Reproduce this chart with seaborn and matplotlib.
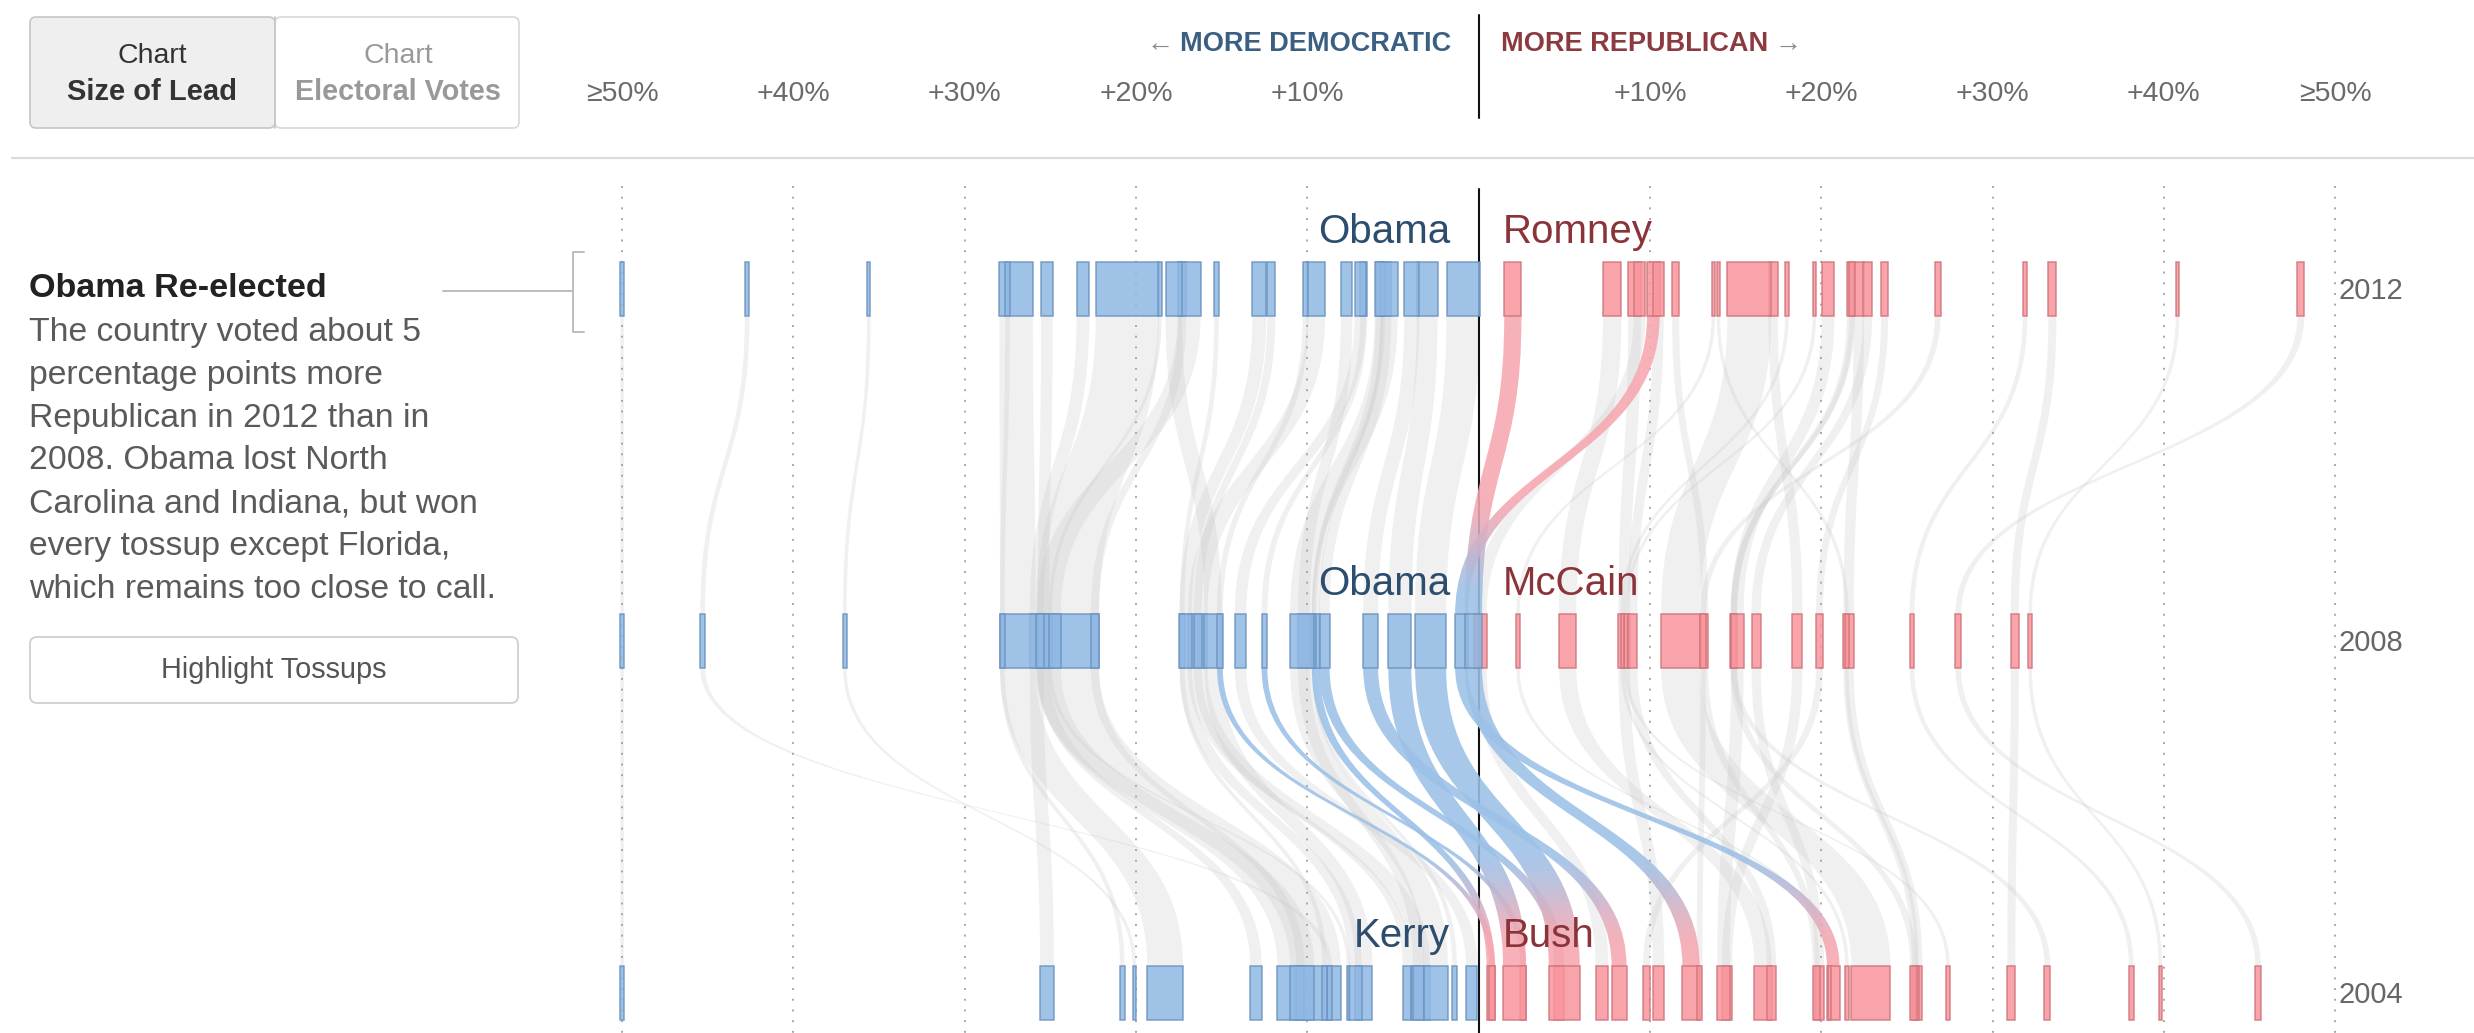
import numpy as np
import matplotlib
matplotlib.use("Agg")
import matplotlib.pyplot as plt
import seaborn as sns
from matplotlib.path import Path
from matplotlib.patches import PathPatch, FancyBboxPatch
from matplotlib.colors import to_rgb

# ---------------- data ----------------
states = ['Alabama', 'Alaska', 'Arizona', 'Arkansas', 'California', 'Colorado', 'Connecticut',
          'Delaware', 'District of Columbia', 'Florida', 'Georgia', 'Hawaii', 'Idaho', 'Illinois',
          'Indiana', 'Iowa', 'Kansas', 'Kentucky', 'Louisiana', 'Maine', 'Maryland', 'Massachusetts',
          'Michigan', 'Minnesota', 'Mississippi', 'Missouri', 'Montana', 'Nebraska', 'Nevada',
          'New Hampshire', 'New Jersey', 'New Mexico', 'New York', 'North Carolina', 'North Dakota',
          'Ohio', 'Oklahoma', 'Oregon', 'Pennsylvania', 'Rhode Island', 'South Carolina',
          'South Dakota', 'Tennessee', 'Texas', 'Utah', 'Vermont', 'Virginia', 'Washington',
          'West Virginia', 'Wisconsin', 'Wyoming']

ev_2012 = [9, 3, 11, 6, 55, 9, 7, 3, 3, 29, 16, 4, 4, 20, 11, 6, 6, 8, 8, 4, 10, 11, 16, 10, 6, 10,
           3, 5, 6, 4, 14, 5, 29, 15, 3, 18, 7, 7, 20, 4, 9, 3, 11, 38, 6, 3, 13, 12, 5, 10, 3]
ev_2008 = [9, 3, 10, 6, 55, 9, 7, 3, 3, 27, 15, 4, 4, 21, 11, 7, 6, 8, 9, 4, 10, 12, 17, 10, 6, 11,
           3, 5, 5, 4, 15, 5, 31, 15, 3, 20, 7, 7, 21, 4, 8, 3, 11, 34, 5, 3, 13, 11, 5, 10, 3]
ev_2004 = ev_2008

# lead in percentage points: positive = Republican, negative = Democratic
margin_2012 = [22.2, 14.0, 9.1, 23.7, -20.5, -5.4, -17.3, -18.6, -83.6, -0.9, 7.8, -42.7, 31.9, -16.9,
               10.2, -5.8, 21.7, 22.7, 17.2, -15.3, -25.2, -23.1, -9.5, -7.7, 11.5, 9.4, 13.7, 21.8,
               -6.7, -5.6, -17.8, -10.1, -27.0, 2.0, 19.6, -3.0, 33.5, -12.1, -5.4, -27.5, 10.5,
               18.0, 20.4, 15.8, 48.0, -35.6, -3.9, -12.8, 26.8, -6.9, 40.8]
margin_2008 = [21.6, 21.5, 8.5, 19.9, -24.0, -9.0, -22.4, -25.0, -85.9, -2.8, 5.2, -45.3, 25.3, -25.1,
               -1.0, -9.5, 14.9, 16.2, 18.6, -17.3, -25.4, -25.8, -16.4, -10.2, 13.2, 0.1, 2.3, 14.9,
               -12.5, -9.6, -15.5, -15.1, -26.9, -0.3, 8.6, -4.6, 31.3, -16.4, -10.3, -27.8, 9.0,
               8.4, 15.1, 11.8, 28.0, -37.0, -6.3, -17.1, 13.1, -13.9, 32.2]
margin_2004 = [25.6, 25.6, 10.5, 9.8, -9.9, 4.7, -10.4, -7.6, -79.8, 5.0, 16.6, -8.7, 38.1, -10.3,
               20.7, 0.7, 25.4, 19.9, 14.5, -9.0, -13.0, -25.2, -3.4, -3.5, 19.7, 7.2, 20.5, 33.2,
               2.6, -1.4, -6.7, 0.8, -18.3, 12.4, 27.4, 2.1, 31.1, -4.2, -2.5, -20.8, 17.1,
               21.5, 14.3, 22.9, 45.5, -20.1, 8.2, -7.2, 12.9, -0.4, 39.8]

years = [2012, 2008, 2004]
dem_names = ['Obama', 'Obama', 'Kerry']
rep_names = ['Romney', 'McCain', 'Bush']
tick_values = [-50, -40, -30, -20, -10, 10, 20, 30, 40, 50]
tick_labels = ['≥50%', '+40%', '+30%', '+20%', '+10%', '+10%', '+20%', '+30%', '+40%', '≥50%']
highlight_2012_2008 = ['North Carolina', 'Indiana']
highlight_2008_2004 = ['Colorado', 'Florida', 'Indiana', 'Iowa', 'Nevada', 'New Mexico',
                       'North Carolina', 'Ohio', 'Virginia']

note_title = 'Obama Re-elected'
note_lines = ['The country voted about 5', 'percentage points more', 'Republican in 2012 than in',
              '2008. Obama lost North', 'Carolina and Indiana, but won',
              'every tossup except Florida,', 'which remains too close to call.']

# ---------------- style ----------------
sns.set_theme(style="white")
plt.rcParams['font.family'] = ['Liberation Sans', 'DejaVu Sans']

W, H, DPI = 2474, 1033, 100
CENTER_PX = 1478.6
PX_PER_PCT = 17.13
PCT_PER_EV = 1.15 / PX_PER_PCT
ROW_TOPS = [262, 614, 966]
BAR_H = 54

BLUE_FILL, BLUE_EDGE = '#8fb8e3', '#6a92bf'
RED_FILL, RED_EDGE = '#f8959c', '#cf747c'
BLUE_FLOW, RED_FLOW = to_rgb('#9cc1e7'), to_rgb('#f6a7b0')

fig = plt.figure(figsize=(W / DPI, H / DPI), dpi=DPI)
fig.patch.set_facecolor('white')
ax = fig.add_axes([0, 0, 1, 1])
ax.set_xlim(-CENTER_PX / PX_PER_PCT, (W - CENTER_PX) / PX_PER_PCT)
ax.set_ylim(H, 0)
ax.axis('off')
sns.despine(ax=ax, left=True, bottom=True)

margins = [np.clip(margin_2012, -50, 50), np.clip(margin_2008, -50, 50), np.clip(margin_2004, -50, 50)]
evs = [np.array(ev_2012), np.array(ev_2008), np.array(ev_2004)]
widths = [e * PCT_PER_EV for e in evs]


def band_path(x0, w0, y0, x1, w1, y1):
    ym = (y0 + y1) / 2
    verts = [(x0 - w0 / 2, y0), (x0 - w0 / 2, ym), (x1 - w1 / 2, ym), (x1 - w1 / 2, y1),
             (x1 + w1 / 2, y1), (x1 + w1 / 2, ym), (x0 + w0 / 2, ym), (x0 + w0 / 2, y0),
             (x0 - w0 / 2, y0)]
    codes = [Path.MOVETO, Path.CURVE4, Path.CURVE4, Path.CURVE4, Path.LINETO,
             Path.CURVE4, Path.CURVE4, Path.CURVE4, Path.CLOSEPOLY]
    return Path(verts, codes)


# grid lines
ax.vlines(tick_values, 186, H, colors='#a8a8a8', linestyles=(0, (1, 4.5)), lw=1.4, zorder=2)

# flows
highlights = [highlight_2012_2008, highlight_2008_2004]
for r in range(2):
    y0 = ROW_TOPS[r] + BAR_H
    y1 = ROW_TOPS[r + 1]
    for i, st in enumerate(states):
        x0, w0 = margins[r][i], widths[r][i]
        x1, w1 = margins[r + 1][i], widths[r + 1][i]
        path = band_path(x0, w0, y0, x1, w1, y1)
        if st in highlights[r]:
            top = RED_FLOW if x0 > 0 else BLUE_FLOW
            bot = RED_FLOW if x1 > 0 else BLUE_FLOW
            n = 200
            t = np.linspace(0, 1, n)
            s = np.clip((t - 0.6) / 0.36, 0, 1)
            s = s * s * (3 - 2 * s)
            img = np.zeros((n, 1, 4))
            img[:, 0, :3] = np.outer(1 - s, top) + np.outer(s, bot)
            img[:, 0, 3] = 0.88
            patch = PathPatch(path, facecolor='none', edgecolor='none')
            ax.add_patch(patch)
            xmin = min(x0 - w0 / 2, x1 - w1 / 2) - 0.2
            xmax = max(x0 + w0 / 2, x1 + w1 / 2) + 0.2
            im = ax.imshow(img, extent=[xmin, xmax, y1, y0], aspect='auto', origin='upper',
                           interpolation='bilinear', zorder=4)
            im.set_clip_path(patch)
        else:
            ax.add_patch(PathPatch(path, facecolor='#c8c8c8', alpha=0.27, edgecolor='none', zorder=1))

# center line
ax.plot([0, 0], [189, H], color='#111111', lw=1.5, zorder=3)

# bars
for r in range(3):
    m = margins[r]
    cols = [RED_FILL if v > 0 else BLUE_FILL for v in m]
    eds = [RED_EDGE if v > 0 else BLUE_EDGE for v in m]
    ax.bar(m, BAR_H, width=widths[r], bottom=ROW_TOPS[r], color=cols, edgecolor=eds,
           linewidth=1.1, alpha=0.86, zorder=5)

# candidate names and year labels
for r in range(3):
    base = ROW_TOPS[r] - 19
    ax.text(-28.6 / PX_PER_PCT, base, dem_names[r], ha='right', va='baseline', fontsize=29,
            color='#2c4d6e', zorder=7)
    ax.text(24.5 / PX_PER_PCT, base, rep_names[r], ha='left', va='baseline', fontsize=29,
            color='#8a3439', zorder=7)
    ax.text((2338 - CENTER_PX) / PX_PER_PCT, ROW_TOPS[r] + 29, str(years[r]), ha='left',
            va='center', fontsize=21, color='#666666', zorder=7)

# tick labels on top
for v, lab in zip(tick_values, tick_labels):
    ax.text(v, 94, lab, ha='center', va='center', fontsize=20.5, color='#6a6a6a')
ax.plot([0, 0], [15, 118], color='#111111', lw=1.5)
t_dem = ax.text(-27 / PX_PER_PCT, 44, 'MORE DEMOCRATIC', ha='right', va='center', fontsize=19.5,
                fontweight='bold', color='#3a5f82')
t_rep = ax.text(22 / PX_PER_PCT, 44, 'MORE REPUBLICAN', ha='left', va='center', fontsize=19.5,
                fontweight='bold', color='#8b3b40')
fig.canvas.draw()
rend = fig.canvas.get_renderer()
bb_d = t_dem.get_window_extent(rend)
bb_r = t_rep.get_window_extent(rend)
inv = ax.transData.inverted()
xd = inv.transform((bb_d.x0 - 7, 0))[0]
xr = inv.transform((bb_r.x1 + 7, 0))[0]
ax.text(xd, 44, '←', ha='right', va='center', fontsize=19.5, color='#8a8a8a')
ax.text(xr, 44, '→', ha='left', va='center', fontsize=19.5, color='#8a8a8a')

# ---------------- UI overlay in pixel coords ----------------
ui = fig.add_axes([0, 0, 1, 1])
ui.set_xlim(0, W)
ui.set_ylim(H, 0)
ui.axis('off')
ui.patch.set_alpha(0)

ui.plot([12, W], [158, 158], color='#dcdcdc', lw=1.6)

ui.add_patch(FancyBboxPatch((30, 17), 245, 111, boxstyle='round,pad=0,rounding_size=6',
                            facecolor='#efefef', edgecolor='#c6c6c6', lw=1.2))
ui.add_patch(FancyBboxPatch((275, 17), 244, 111, boxstyle='round,pad=0,rounding_size=6',
                            facecolor='white', edgecolor='#d8d8d8', lw=1.2))
ui.plot([275, 275], [17, 128], color='#c6c6c6', lw=1.2)
ui.text(152, 56, 'Chart', ha='center', va='center', fontsize=20.5, color='#333333')
ui.text(152, 92, 'Size of Lead', ha='center', va='center', fontsize=21, fontweight='bold',
        color='#333333')
ui.text(398, 56, 'Chart', ha='center', va='center', fontsize=20.5, color='#999999')
ui.text(398, 92, 'Electoral Votes', ha='center', va='center', fontsize=20.7, fontweight='bold',
        color='#999999')

# bracket
ui.plot([443, 573], [291, 291], color='#bdbdbd', lw=1.4)
ui.plot([584, 573, 573, 584], [252, 252, 332, 332], color='#bdbdbd', lw=1.4)

ui.text(29, 297, note_title, ha='left', va='baseline', fontsize=24.6, fontweight='bold', color='#222222')
for k, line in enumerate(note_lines):
    ui.text(29, 341 + 42.8 * k, line, ha='left', va='baseline', fontsize=24.3, color='#5a5a5a')

ui.add_patch(FancyBboxPatch((30, 637), 488, 66, boxstyle='round,pad=0,rounding_size=7',
                            facecolor='white', edgecolor='#cfcfcf', lw=1.3))
ui.text(274, 670, 'Highlight Tossups', ha='center', va='center', fontsize=20.8, color='#555555')

fig.savefig('out.png', dpi=DPI, facecolor='white')
